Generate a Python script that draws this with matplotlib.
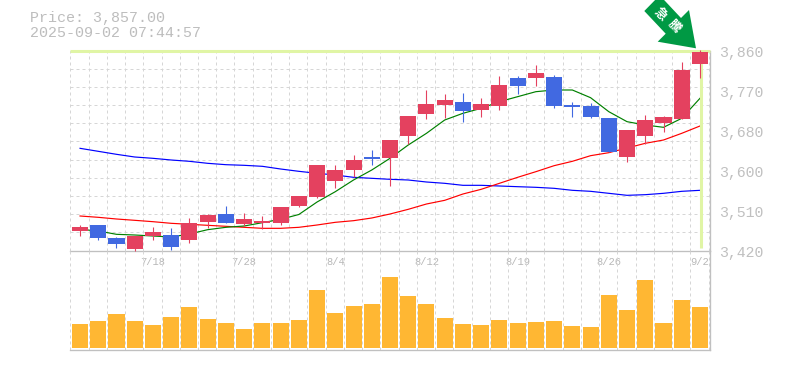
"""Candlestick chart with moving averages and a volume panel."""

import matplotlib
matplotlib.use("Agg")
import matplotlib.pyplot as plt
from matplotlib.patches import Polygon

W, H = 785, 370

# ── Data ──────────────────────────────────────────────────────────────────────
opens = [3463, 3476, 3448, 3423, 3452, 3454, 3443, 3483, 3500, 3478, 3480, 3480,
         3519, 3538, 3573, 3597, 3626, 3624, 3672, 3720, 3740, 3747, 3729, 3738,
         3799, 3799, 3802, 3740, 3738, 3711, 3626, 3672, 3700, 3709, 3830]
closes = [3472, 3448, 3434, 3453, 3461, 3428, 3480, 3498, 3480, 3489, 3485, 3516,
          3541, 3608, 3597, 3619, 3621, 3663, 3716, 3742, 3751, 3727, 3742, 3784,
          3782, 3810, 3738, 3736, 3714, 3637, 3685, 3707, 3714, 3817, 3857]
highs = [3476, 3476, 3450, 3453, 3472, 3470, 3491, 3500, 3518, 3503, 3496, 3516,
         3541, 3608, 3608, 3630, 3641, 3663, 3716, 3773, 3764, 3767, 3755, 3804,
         3804, 3828, 3806, 3747, 3744, 3711, 3685, 3718, 3716, 3835, 3861]
lows = [3452, 3443, 3426, 3419, 3443, 3421, 3437, 3470, 3480, 3474, 3467, 3476,
        3515, 3536, 3558, 3582, 3608, 3562, 3654, 3709, 3711, 3703, 3714, 3729,
        3764, 3782, 3733, 3714, 3711, 3637, 3615, 3654, 3681, 3709, 3799]
ma_short = [3466.6, 3462.9, 3455.6, 3454.1, 3451.9, 3449.7, 3456.3, 3465.8, 3471.0,
            3473.9, 3481.2, 3488.6, 3499.2, 3526.7, 3549.4, 3575.1, 3597.1, 3622.8,
            3652.1, 3677.8, 3707.1, 3721.8, 3732.8, 3747.4, 3758.4, 3769.4, 3773.1,
            3773.1, 3756.2, 3725.4, 3703.4, 3696.1, 3691.0, 3710.8, 3754.8]
ma_mid = [3495.9, 3493.0, 3489.3, 3486.4, 3483.4, 3479.8, 3477.6, 3475.4, 3473.2,
          3471.0, 3468.8, 3468.8, 3471.0, 3476.1, 3482.0, 3485.6, 3491.5, 3500.3,
          3510.6, 3522.3, 3530.4, 3544.3, 3554.6, 3567.8, 3581.0, 3593.4, 3606.6,
          3616.2, 3628.6, 3635.2, 3645.5, 3655.8, 3663.1, 3677.8, 3693.9]
ma_long = [3644.8, 3638.2, 3631.6, 3625.7, 3622.8, 3619.1, 3616.2, 3611.8, 3608.8,
           3607.4, 3605.2, 3599.3, 3594.2, 3589.8, 3586.1, 3581.0, 3578.8, 3576.6,
           3575.1, 3570.7, 3567.8, 3563.4, 3563.4, 3561.9, 3560.4, 3559.0, 3556.8,
           3552.4, 3550.2, 3545.8, 3541.4, 3542.8, 3545.8, 3550.2, 3552.4]
volumes = [73, 82, 103, 82, 70, 94, 124, 88, 76, 58, 76, 76, 85, 175, 106, 127, 133,
           214, 157, 133, 91, 73, 70, 85, 76, 79, 82, 67, 64, 160, 115, 205, 76, 145,
           124]
date_ticks = [4, 9, 14, 19, 24, 29, 34]
date_labels = ["7/18", "7/28", "8/4", "8/12", "8/19", "8/26", "9/2"]
price_ticks = [3860, 3772, 3684, 3596, 3508, 3420]
price_labels = ["3,860", "3,770", "3,680", "3,600", "3,510", "3,420"]
last_price = 3857.00
timestamp = "2025-09-02 07:44:57"

# ── Styles ────────────────────────────────────────────────────────────────────
UP = "#e4415f"
DOWN = "#4169e1"
VOL = "#ffb733"
GRID = "#d6d6d6"
FRAME = "#c0c0c0"
HILITE = "#e0f5a5"
ARROW = "#009944"
MONO = "Liberation Mono"
XLIM = (-0.55, 34.55)
DASH = (0, (3, 3))


def add_axes(left, top, right, bottom):
    """Axes placed by pixel edges, top-left origin."""
    return fig.add_axes([left / W, 1 - bottom / H, (right - left) / W, (bottom - top) / H])


fig = plt.figure(figsize=(W / 100, H / 100), dpi=100, facecolor="white")
ax = add_axes(70, 50.5, 710, 250.5)
ax_vol = add_axes(70, 250.5, 710, 350)

# ── Price panel ───────────────────────────────────────────────────────────────
ax.set_xlim(*XLIM)
ax.set_ylim(3420, 3860)
for x in range(36):
    for a in (ax, ax_vol):
        a.axvline(x - 0.53, color=GRID, lw=0.72, ls=DASH, zorder=1)
for y in range(3420, 3861, 40):
    ax.axhline(y, color=GRID, lw=0.72, ls=DASH, zorder=1)

ax.plot(range(35), ma_long, color="#0000ff", lw=0.85, zorder=2)
ax.plot(range(35), ma_mid, color="#ff0000", lw=0.85, zorder=2)
ax.plot(range(35), ma_short, color="#008000", lw=0.85, zorder=2)

# current price cross-hair
ax.plot(XLIM, [3858, 3858], color=HILITE, lw=2.2, zorder=3, solid_capstyle="butt", clip_on=False)
ax.plot([34.03, 34.03], [3858, 3425], color=HILITE, lw=2.2, zorder=3, solid_capstyle="butt")

for i in range(35):
    colour = UP if closes[i] >= opens[i] else DOWN
    ax.plot([i, i], [lows[i], highs[i]], color=colour, lw=0.8, zorder=4,
            solid_capstyle="butt", clip_on=False)
    ax.bar(i, abs(closes[i] - opens[i]), bottom=min(opens[i], closes[i]), width=0.88,
           color=colour, linewidth=0, zorder=4)

for side in ("top", "left"):
    ax.spines[side].set_visible(False)
    ax_vol.spines[side].set_visible(False)
for a in (ax, ax_vol):
    a.spines["right"].set_color(FRAME)
    a.spines["bottom"].set_color(FRAME)
    a.spines["right"].set_linewidth(0.95)
    a.spines["bottom"].set_linewidth(0.95)

ax.set_yticks([])
for price, label in zip(price_ticks, price_labels):
    ax.annotate(label, xy=(1, price), xycoords=ax.get_yaxis_transform(), xytext=(9, -2.5),
                textcoords="offset pixels", family=MONO, fontsize=10.7, color=FRAME,
                ha="left", va="center", annotation_clip=False)
ax.set_xticks(date_ticks, date_labels, family=MONO, fontsize=7.5, color="#b8b8b8")
ax.tick_params(axis="x", length=0, pad=4.5)

# ── Volume panel ──────────────────────────────────────────────────────────────
ax_vol.set_xlim(*XLIM)
ax_vol.set_ylim(-6, 292)
ax_vol.bar(range(35), volumes, width=0.88, color=VOL, linewidth=0, zorder=3)
ax_vol.set_xticks([])
ax_vol.set_yticks([])
ax_vol.patch.set_alpha(0)

# ── Header ────────────────────────────────────────────────────────────────────
fig.text(30 / W, 1 - 18 / H, f"Price: {last_price:,.2f}", family=MONO, fontsize=10.8,
         color="#bdbdbd", va="center", ha="left")
fig.text(30 / W, 1 - 33 / H, timestamp, family=MONO, fontsize=10.8,
         color="#bdbdbd", va="center", ha="left")

# ── Arrow badge ───────────────────────────────────────────────────────────────
badge = [(644.3, 11), (659.7, -4.7), (681, 18), (689, 10), (696, 48.3), (657.7, 41.7), (665.7, 33.7)]
fig.add_artist(Polygon([(x / W, 1 - y / H) for x, y in badge], closed=True, color=ARROW,
                       linewidth=0, transform=fig.transFigure, zorder=6))
for ch, cx, cy in (("急", 660.5, 14), ("騰", 674, 26.5)):
    fig.text(cx / W, 1 - cy / H, ch, family=["Noto Sans CJK JP", "DejaVu Sans"], fontsize=9,
             fontweight="bold", color="white", rotation=-45, ha="center", va="center",
             rotation_mode="anchor", zorder=7)

fig.savefig("out.png", dpi=100)
